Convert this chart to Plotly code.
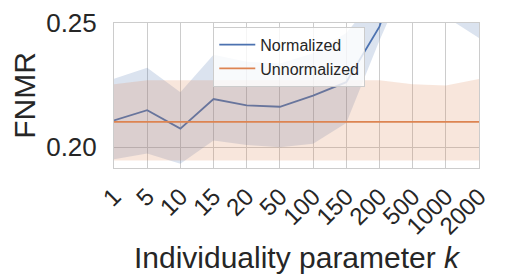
import plotly.graph_objects as go

k_labels = ["1", "5", "10", "15", "20", "50", "100", "150", "200", "500", "1000", "2000"]

norm_mean = [0.2108, 0.2149, 0.2075, 0.2194, 0.2169, 0.2163, 0.2208, 0.2262, 0.2485, 0.290, 0.275, 0.265]
norm_low = [0.1952, 0.1975, 0.1934, 0.2027, 0.2009, 0.2000, 0.2014, 0.2098, 0.2430, 0.273, 0.2525, 0.2440]
norm_high = [0.2276, 0.2320, 0.2221, 0.2372, 0.2344, 0.2337, 0.2378, 0.2460, 0.2620, 0.310, 0.300, 0.290]

unnorm_mean = [0.2102] * 12
unnorm_low = [0.1947] * 12
unnorm_high = [0.2254, 0.2270, 0.2270, 0.2270, 0.2270, 0.2270, 0.2270, 0.2270, 0.2270, 0.2254, 0.2249, 0.2275]

BLUE = "#4c72b0"
ORANGE = "#dd8452"
FONT = "Liberation Sans, Arial, sans-serif"

fig = go.Figure()

def add_series(name, mean, low, high, color, fillcolor):
    fig.add_trace(go.Scatter(x=k_labels, y=low, mode="lines", line=dict(width=0, color=color),
                             showlegend=False, hoverinfo="skip"))
    fig.add_trace(go.Scatter(x=k_labels, y=high, mode="lines", line=dict(width=0, color=color),
                             fill="tonexty", fillcolor=fillcolor, showlegend=False, hoverinfo="skip"))
    fig.add_trace(go.Scatter(x=k_labels, y=mean, mode="lines", name=name,
                             line=dict(width=1.8, color=color)))

add_series("Normalized", norm_mean, norm_low, norm_high, BLUE, "rgba(76,114,176,0.2)")
add_series("Unnormalized", unnorm_mean, unnorm_low, unnorm_high, ORANGE, "rgba(221,132,82,0.2)")

fig.update_layout(
    width=509, height=279,
    margin=dict(l=106, r=38, t=15, b=119),
    paper_bgcolor="white", plot_bgcolor="white",
    font=dict(family=FONT, color="#262626"),
    legend=dict(x=0.272, y=0.975, xanchor="left", yanchor="top",
                traceorder="normal",
                bgcolor="rgba(255,255,255,0.8)", bordercolor="#cccccc", borderwidth=1,
                font=dict(size=16, family=FONT, color="#262626"),
                itemwidth=36, tracegroupgap=0),
    showlegend=True,
)
fig.update_xaxes(type="category", range=[0, 11], tickangle=-45, automargin=False,
                 tickfont=dict(size=24, family=FONT, color="#262626"),
                 showgrid=True, gridcolor="#cccccc", gridwidth=1,
                 showline=True, linecolor="#cccccc", linewidth=1, mirror=True,
                 ticks="", zeroline=False, ticklabelstandoff=4,
                 title=dict(text="Individuality parameter <i>k</i>", font=dict(size=30, family=FONT, color="#262626"),
                            standoff=8))
fig.update_yaxes(range=[0.19167, 0.25], tickvals=[0.20, 0.25], ticktext=["0.20", "0.25"], automargin=False,
                 tickfont=dict(size=26, family=FONT, color="#262626"),
                 showgrid=True, gridcolor="#cccccc", gridwidth=1,
                 showline=True, linecolor="#cccccc", linewidth=1, mirror=True,
                 ticks="", zeroline=False, ticklabelstandoff=11,
                 title=dict(text="FNMR", font=dict(size=30, family=FONT, color="#262626"), standoff=8))

fig.write_html("out.html")
